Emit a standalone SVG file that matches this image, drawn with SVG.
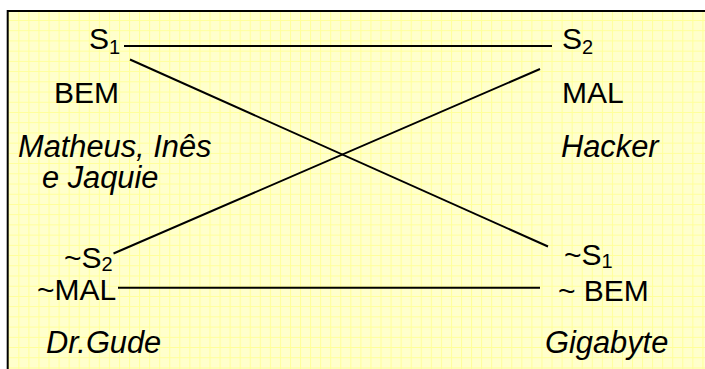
<svg xmlns="http://www.w3.org/2000/svg" width="705" height="369" viewBox="0 0 705 369">
<style>
.t{font-family:"Liberation Sans",Arial,sans-serif;font-size:30px;fill:#000}
.i{font-style:italic;font-size:30.8px}
.sub{font-size:20px}
.c{stroke:#000;stroke-width:2;fill:none}
</style>
<defs>
<pattern id="grid" patternUnits="userSpaceOnUse" x="8.3" y="9.8" width="10.06" height="10.22">
<rect width="10.06" height="10.22" fill="#FFFFCC"/>
<path d="M0 0.5H10.06M0.5 0V10.22" stroke="#FFFF99" stroke-width="1"/>
</pattern>
</defs>
<rect width="705" height="369" fill="#fff"/>
<rect x="7.7" y="11" width="710" height="370" fill="url(#grid)" stroke="#000" stroke-width="2"/>
<g id="connectors">
<line class="c" x1="124" y1="46" x2="552" y2="46"/>
<line class="c" x1="130" y1="59.5" x2="548" y2="246.5"/>
<line class="c" x1="540" y1="69" x2="113.5" y2="253.5"/>
<line class="c" x1="118" y1="287.7" x2="540" y2="287.7"/>
</g>
<g id="s1"><text class="t" x="89" y="49">S<tspan class="sub" dy="5">1</tspan></text></g>
<g id="bem"><text class="t" x="54" y="103">BEM</text></g>
<g id="matheus"><text class="t i"><tspan x="18" y="157">Matheus, Inês</tspan><tspan x="42" y="188">e Jaquie</tspan></text></g>
<g id="s2"><text class="t" x="562" y="49">S<tspan class="sub" dy="5">2</tspan></text></g>
<g id="mal"><text class="t" x="562" y="103">MAL</text></g>
<g id="hacker"><text class="t i" x="561" y="157">Hacker</text></g>
<g id="nots2"><text class="t" x="64" y="268">~S<tspan class="sub" dy="3">2</tspan></text></g>
<g id="notmal"><text class="t" x="37" y="300">~MAL</text></g>
<g id="drgude"><text class="t i" x="46" y="353">Dr.Gude</text></g>
<g id="nots1"><text class="t" x="564" y="265">~S<tspan class="sub" dy="3">1</tspan></text></g>
<g id="notbem"><text class="t" x="558" y="301">~ BEM</text></g>
<g id="gigabyte"><text class="t i" x="545" y="353">Gigabyte</text></g>
</svg>
